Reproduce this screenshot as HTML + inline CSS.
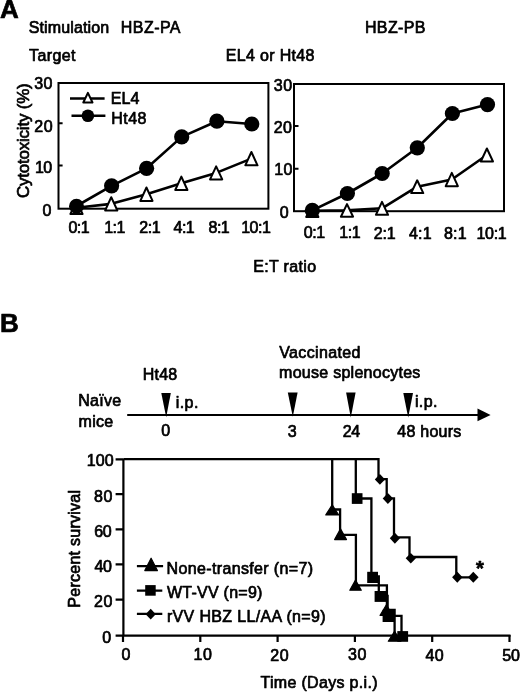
<!DOCTYPE html>
<html><head><meta charset="utf-8">
<style>
html,body{margin:0;padding:0;background:#fff;width:520px;height:692px;overflow:hidden}
svg{display:block;filter:blur(0.35px)}
text{font-family:"Liberation Sans",Arial,Helvetica,sans-serif;fill:#000;stroke:#000;stroke-width:0.7px;stroke-linejoin:round}
</style></head>
<body>
<svg width="520" height="692" viewBox="0 0 520 692">
<rect width="520" height="692" fill="#fff"/>
<!-- ===== Panel A ===== -->

<!-- left chart -->
<g fill="none" stroke="#000" stroke-width="2">
<rect x="58.5" y="83" width="209.9" height="125.7"/>
<path d="M58.5 165.4H62.6M58.5 123.2H62.6"/>
</g>

<!-- left data -->
<g fill="none" stroke="#000" stroke-width="2.6" stroke-linejoin="round">
<polyline points="76.5,206 111.6,185.8 146.6,168.3 181.7,136.9 216.9,121.2 251.8,124"/>
<polyline points="76.50,207.75 111.25,203.85 146.45,194.20 181.35,183.30 216.15,172.90 251.40,158.65"/>
</g>
<g fill="#fff" stroke="#000" stroke-width="2" stroke-linejoin="round">
<path d="M76.50 201.50L82.60 214.00H70.40Z"/>
<path d="M111.25 197.20L117.35 210.50H105.15Z"/>
<path d="M146.45 187.50L152.55 200.90H140.35Z"/>
<path d="M181.35 176.60L187.45 190.00H175.25Z"/>
<path d="M216.15 166.40L222.25 179.40H210.05Z"/>
<path d="M251.40 152.00L257.50 165.30H245.30Z"/>
</g>
<g fill="#000">
<circle cx="76.5" cy="206.3" r="7.5"/>
<circle cx="111.6" cy="185.8" r="7.6"/>
<circle cx="146.6" cy="168.3" r="7.6"/>
<circle cx="181.7" cy="136.9" r="7.6"/>
<circle cx="216.9" cy="121.2" r="7.6"/>
<circle cx="251.8" cy="124" r="7.6"/>
</g>
<!-- legend -->
<g stroke="#000" stroke-width="2.6">
<path d="M70 98.5H104.6M71.5 115.8H105.4"/>
</g>
<path d="M87.9 92.9L92.5 102.5H83.3Z" fill="#fff" stroke="#000" stroke-width="2" stroke-linejoin="round"/>
<circle cx="87.9" cy="115.8" r="6.3" fill="#000"/>

<!-- right chart -->
<g fill="none" stroke="#000" stroke-width="2">
<rect x="294" y="84" width="210" height="127.2"/>
<path d="M294 168.7H298.5M294 126.1H298.5"/>
</g>
<g fill="none" stroke="#000" stroke-width="2.6" stroke-linejoin="round">
<polyline points="312.3,210.4 347.4,193.5 382.2,173.5 417.3,147.8 452.4,113.5 487.5,104.6"/>
<polyline points="312.30,210.75 347.00,210.40 382.00,208.30 417.20,186.70 451.80,179.55 486.90,155.00"/>
</g>
<g fill="#fff" stroke="#000" stroke-width="2" stroke-linejoin="round">
<path d="M312.30 204.50L318.40 217.00H306.20Z"/>
<path d="M347.00 204.10L353.10 216.70H340.90Z"/>
<path d="M382.00 201.80L388.10 214.80H375.90Z"/>
<path d="M417.20 180.30L423.30 193.10H411.10Z"/>
<path d="M451.80 172.90L457.90 186.20H445.70Z"/>
<path d="M486.90 148.50L493.00 161.50H480.80Z"/>
</g>
<g fill="#000">
<circle cx="312.3" cy="210.4" r="7.6"/>
<circle cx="347.4" cy="193.5" r="7.6"/>
<circle cx="382.2" cy="173.5" r="7.6"/>
<circle cx="417.3" cy="147.8" r="7.6"/>
<circle cx="452.4" cy="113.5" r="7.6"/>
<circle cx="487.5" cy="104.6" r="7.6"/>
</g>

<!-- ===== Panel B ===== -->
<path d="M127.2 415H478" stroke="#000" stroke-width="2"/>
<path d="M477.5 408.6L490.6 415L477.5 421.2Z" fill="#000"/>
<g fill="#000">
<path d="M161.3 392.9H170.8L166.2 417.2Z"/>
<path d="M287.8 392.4H297.6L292.8 416.8Z"/>
<path d="M346.1 392.6H355.6L350.8 417.4Z"/>
<path d="M403.3 392.9H413.0L408.2 417.4Z"/>
</g>

<!-- survival chart axes -->
<g fill="none" stroke="#000" stroke-width="2.2">
<path d="M123.4 459V636.5M115.6 635.7H510.5"/>
<path d="M115.6 459.3H123.4M115.6 494.2H123.4M115.6 529.3H123.4M115.6 564.4H123.4M115.6 599.6H123.4"/>
<path d="M123 635V642M200.3 635V642M277.6 635V642M354.9 635V642M432.2 635V642M509.5 635V642"/>
</g>

<!-- survival curves -->
<g fill="none" stroke="#000" stroke-width="2.3">
<path d="M123.4 459.2H378.5V479.2H386.7V498.4H394V537.3H409.5V557H456.3V577.3H473.3"/>
<path d="M332.2 459.2V509.5H340.1V534.8H355.9V585.3H386.9V609.8H394.6V635"/>
<path d="M355.8 459.2V498.5H371.4V576.5H378.8V596H387.6V615.9H401.5V635"/>
</g>
<g fill="#000">
<!-- triangles -->
<g stroke="#000" stroke-width="1.2" stroke-linejoin="round">
<path d="M332.20 504.90L338.60 514.90H325.80Z"/>
<path d="M340.50 528.90L346.50 539.60H334.60Z"/>
<path d="M355.50 580.10L361.30 590.20H349.80Z"/>
<path d="M386.40 604.70L392.60 615.40H380.10Z"/>
<path d="M394.60 631.20L400.90 641.20H388.30Z"/>
</g>
<!-- squares -->
<rect x="351.8" y="493.2" width="10.7" height="10.7"/>
<rect x="367.2" y="571.8" width="10.8" height="11.2"/>
<rect x="374.6" y="591" width="11.9" height="10.9"/>
<rect x="382.6" y="609.7" width="12.4" height="12.3"/>
<rect x="397.3" y="631.1" width="10.8" height="10.7"/>
<!-- diamonds -->
<path d="M379.9 474L385 479.4L379.9 484.8L374.8 479.4Z"/>
<path d="M387.9 493.1L393.1 498.5L387.9 504L382.7 498.5Z"/>
<path d="M394.9 532.8L400 538.2L394.9 543.7L389.8 538.2Z"/>
<path d="M410.8 552.9L415.9 558.2L410.8 563.5L405.7 558.2Z"/>
<path d="M457.3 571.7L462.5 577.2L457.3 582.7L452.1 577.2Z"/>
<path d="M473.3 571.7L478.6 577.2L473.3 582.7L468 577.2Z"/>
</g>

<!-- survival legend -->
<g stroke="#000" stroke-width="2.3">
<path d="M136.9 566.1H163.1M136.9 590.7H162.3M136.9 613.9H162.3"/>
</g>
<g fill="#000">
<path d="M151.1 558.2L157.4 570.6H144.8Z" stroke="#000" stroke-width="1.2" stroke-linejoin="round"/>
<rect x="145.2" y="585.1" width="10.5" height="10.6"/>
<path d="M150.7 608.8L155.8 614.2L150.7 619.6L145.6 614.2Z"/>
</g>

<text font-size="26" font-weight="bold" x="-0.03" y="18.24">A</text>
<text font-size="16" letter-spacing="0.13" x="28.74" y="33.03">Stimulation</text>
<text font-size="16" letter-spacing="0.434" x="120.87" y="33.35">HBZ-PA</text>
<text font-size="16" letter-spacing="0.396" x="364.9" y="32.6">HBZ-PB</text>
<text font-size="16" letter-spacing="0.349" x="29.12" y="60.76">Target</text>
<text font-size="16" letter-spacing="0.341" x="225.73" y="61.1">EL4 or Ht48</text>
<text font-size="16" letter-spacing="0.261" x="34.33" y="89.21">30</text>
<text font-size="16" letter-spacing="0.6" x="34.17" y="131.62">20</text>
<text font-size="16" letter-spacing="-0.5" x="34.93" y="172.95">10</text>
<text font-size="16" x="42.62" y="215.91">0</text>
<text font-size="16" letter-spacing="-0.5" x="68.48" y="233.08">0:1</text>
<text font-size="16" letter-spacing="-0.5" x="104.15" y="232.63">1:1</text>
<text font-size="16" letter-spacing="-0.5" x="139.31" y="232.69">2:1</text>
<text font-size="16" letter-spacing="-0.5" x="173.53" y="232.97">4:1</text>
<text font-size="16" letter-spacing="-0.5" x="208.53" y="232.98">8:1</text>
<text font-size="16" letter-spacing="-0.467" x="241.14" y="232.98">10:1</text>
<text font-size="16" letter-spacing="0.086" x="110.81" y="104.1">EL4</text>
<text font-size="16" letter-spacing="0.398" x="111.36" y="123.5">Ht48</text>
<text font-size="17" letter-spacing="-0.219" transform="translate(29.05 198.07) rotate(-90)">Cytotoxicity (%)</text>
<text font-size="16" letter-spacing="0.6" x="273.69" y="90.79">30</text>
<text font-size="16" letter-spacing="0.6" x="273.63" y="132.52">20</text>
<text font-size="16" letter-spacing="0.465" x="274.13" y="174.71">10</text>
<text font-size="16" x="279.84" y="218.17">0</text>
<text font-size="16" letter-spacing="-0.5" x="303.81" y="238.32">0:1</text>
<text font-size="16" letter-spacing="-0.5" x="339.29" y="238.33">1:1</text>
<text font-size="16" letter-spacing="-0.153" x="373.65" y="239.04">2:1</text>
<text font-size="16" letter-spacing="0.208" x="408.96" y="239.07">4:1</text>
<text font-size="16" letter-spacing="0.182" x="444.0" y="239.03">8:1</text>
<text font-size="16" letter-spacing="-0.328" x="476.52" y="239.06">10:1</text>
<text font-size="16" letter-spacing="0.354" x="253.14" y="271.55">E:T ratio</text>
<text font-size="26" font-weight="bold" x="0.06" y="332.2">B</text>
<text font-size="16" letter-spacing="0.211" x="142.72" y="380.35">Ht48</text>
<text font-size="16" letter-spacing="0.353" x="279.29" y="358.45">Vaccinated</text>
<text font-size="16" letter-spacing="0.265" x="279.11" y="378.08">mouse splenocytes</text>
<text font-size="16" letter-spacing="0.24" x="78.32" y="406.3">Naïve</text>
<text font-size="16" letter-spacing="0.282" x="78.57" y="426.93">mice</text>
<text font-size="16" letter-spacing="0.464" x="175.66" y="407.57">i.p.</text>
<text font-size="16" letter-spacing="0.37" x="414.95" y="407.49">i.p.</text>
<text font-size="16" x="161.27" y="436.03">0</text>
<text font-size="16" x="287.77" y="436.65">3</text>
<text font-size="16" letter-spacing="-0.361" x="342.83" y="436.93">24</text>
<text font-size="16" letter-spacing="0.24" x="397.36" y="437.15">48 hours</text>
<text font-size="16" letter-spacing="0.095" x="86.83" y="466.06">100</text>
<text font-size="16" letter-spacing="0.6" x="94.03" y="501.53">80</text>
<text font-size="16" letter-spacing="-0.261" x="94.24" y="536.79">60</text>
<text font-size="16" letter-spacing="-0.5" x="94.57" y="571.63">40</text>
<text font-size="16" letter-spacing="0.6" x="94.03" y="607.15">20</text>
<text font-size="16" x="102.14" y="642.68">0</text>
<text font-size="16" x="121.47" y="660.07">0</text>
<text font-size="16" letter-spacing="0.6" x="193.45" y="660.36">10</text>
<text font-size="16" letter-spacing="0.6" x="270.26" y="660.7">20</text>
<text font-size="16" letter-spacing="0.6" x="347.98" y="659.96">30</text>
<text font-size="16" letter-spacing="0.384" x="425.59" y="660.85">40</text>
<text font-size="16" x="502.21" y="661.09">50</text>
<text font-size="16" letter-spacing="0.317" x="260.41" y="688.26">Time (Days p.i.)</text>
<text font-size="16" letter-spacing="0.258" transform="translate(80.42 607.64) rotate(-90)">Percent survival</text>
<text font-size="16" letter-spacing="0.356" x="166.56" y="573.66">None-transfer (n=7)</text>
<text font-size="16" letter-spacing="0.243" x="167.03" y="598.15">WT-VV (n=9)</text>
<text font-size="16" letter-spacing="0.347" x="166.88" y="621.56">rVV HBZ LL/AA (n=9)</text>
<text font-size="20" font-weight="bold" x="475.98" y="574.55">*</text>
</svg>
</body></html>
